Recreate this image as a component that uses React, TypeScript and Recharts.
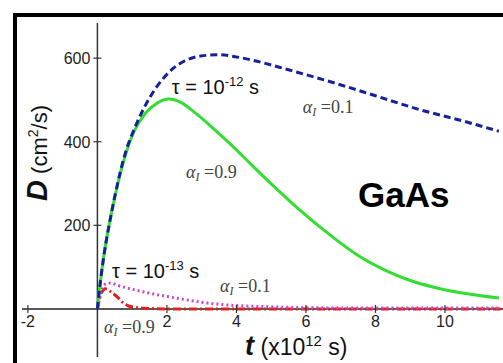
import React from "react";
import { LineChart, Line, XAxis, YAxis, ReferenceLine, ReferenceDot } from "recharts";

// tau = 1e-12 s, alpha_I = 0.1 (blue dashed)
const T_BLUE = [0, 0.05, 0.1, 0.2, 0.37, 0.52, 0.66, 0.8, 1.07, 1.38, 1.67, 2.16, 2.48, 2.97, 3.5, 3.92, 4.41, 5.5, 6.8, 8, 9.22, 10.5, 11.55];
const D_BLUE = [0, 40, 75, 135, 215, 277, 328, 372, 432, 487, 527, 574, 592, 605, 608, 604, 596, 572, 541, 510, 478, 450, 425];

// tau = 1e-12 s, alpha_I = 0.9 (green solid)
const T_GREEN = [0, 0.05, 0.1, 0.2, 0.37, 0.52, 0.66, 0.8, 1.04, 1.38, 1.73, 2.05, 2.4, 2.77, 3.25, 3.75, 4.2, 4.7, 5.27, 5.8, 6.8, 7.5, 8.24, 9, 9.68, 10.5, 11.55];
const D_GREEN = [0, 40, 75, 135, 215, 275, 325, 366, 422, 468, 493, 502, 494, 472, 438, 400, 364, 323, 278, 238, 170, 128, 94, 68, 52, 38, 26];

// tau = 1e-13 s, alpha_I = 0.1 (magenta dotted)
const T_PINK = [0, 0.1, 0.2, 0.37, 0.6, 1, 1.73, 2.4, 3.17, 4, 5, 6, 8, 10, 11.6];
const D_PINK = [0, 40, 58, 62, 56, 47, 34, 24, 14, 8, 5, 3, 2, 2, 2];

// tau = 1e-13 s, alpha_I = 0.9 (red dash-dot)
const T_RED = [0, 0.1, 0.23, 0.4, 0.57, 0.75, 0.9, 1.15, 1.5, 2, 3, 4, 6, 8, 10, 11.6];
const D_RED = [0, 35, 48, 40, 29, 14, 7, 3, 1, 0, 0, 0, 0, 0, 0, 0];

const X_TICKS = [-2, 2, 4, 6, 8, 10];
const Y_TICKS = [200, 400, 600];

const X_DOMAIN: [number, number] = [-2.17, 11.67];
const Y_DOMAIN: [number, number] = [-115, 684];

const toData = (ts: number[], ds: number[]) => ts.map((t, i) => ({ t, d: ds[i] }));

const blueData = toData(T_BLUE, D_BLUE);
const greenData = toData(T_GREEN, D_GREEN);
const pinkData = toData(T_PINK, D_PINK);
const redData = toData(T_RED, D_RED);

const SANS = "Arial, 'Liberation Sans', sans-serif";
const SERIF = "'Times New Roman', 'Liberation Serif', serif";

const xTickShape = (label: string) => (p: any) => (
  <g>
    <line x1={p.cx} x2={p.cx} y1={p.cy - 4} y2={p.cy + 4} stroke="#333" strokeWidth={1.2} />
    <text x={p.cx} y={p.cy + 18} textAnchor="middle" fontSize={16} fill="#222" fontFamily={SANS}>
      {label}
    </text>
  </g>
);

const yTickShape = (label: string) => (p: any) => (
  <g>
    <line x1={p.cx - 4} x2={p.cx + 4} y1={p.cy} y2={p.cy} stroke="#333" strokeWidth={1.2} />
    <text x={p.cx - 7} y={p.cy + 6} textAnchor="end" fontSize={16} fill="#222" fontFamily={SANS}>
      {label}
    </text>
  </g>
);

const tauShape = (exp: string) => (p: any) => (
  <text x={p.cx} y={p.cy} fontSize={20} fill="#111" fontFamily={SANS}>
    <tspan>τ = 10</tspan>
    <tspan dy={-8} fontSize={13}>{exp}</tspan>
    <tspan dy={8}> s</tspan>
  </text>
);

const alphaShape = (val: string) => (p: any) => (
  <text x={p.cx} y={p.cy} fontSize={18} fill="#444" fontFamily={SERIF}>
    <tspan fontStyle="italic">α</tspan>
    <tspan fontStyle="italic" fontSize={12} dy={3}>I</tspan>
    <tspan dy={-3}> =</tspan>
    <tspan>{val}</tspan>
  </text>
);

const gaasShape = (p: any) => (
  <text x={p.cx} y={p.cy} fontSize={35} fontWeight="bold" fill="#000" fontFamily={SANS}>
    GaAs
  </text>
);

const tLabelShape = (p: any) => (
  <text x={p.cx} y={p.cy} fill="#111" fontFamily={SANS}>
    <tspan fontSize={27} fontWeight="bold" fontStyle="italic">t</tspan>
    <tspan fontSize={23}> (x10</tspan>
    <tspan fontSize={15} dy={-9}>12</tspan>
    <tspan fontSize={23} dy={9}> s)</tspan>
  </text>
);

const dLabelShape = (p: any) => (
  <text
    x={p.cx}
    y={p.cy}
    fill="#111"
    fontFamily={SANS}
    textAnchor="middle"
    transform={`rotate(-90 ${p.cx} ${p.cy})`}
  >
    <tspan fontSize={29} fontWeight="bold" fontStyle="italic">D</tspan>
    <tspan fontSize={22}> (cm</tspan>
    <tspan fontSize={14} dy={-9}>2</tspan>
    <tspan fontSize={22} dy={9}>/s)</tspan>
  </text>
);

export default function App() {
  return (
    <div
      style={{
        position: "absolute",
        left: 0,
        top: 0,
        width: 503,
        height: 363,
        overflow: "hidden",
        background: "#fff",
      }}
    >
      <div
        style={{
          position: "absolute",
          left: 13,
          top: 13,
          width: 700,
          height: 700,
          borderLeft: "4px solid #000",
          borderTop: "4px solid #000",
        }}
      />
      <div style={{ position: "absolute", left: 0, top: 0 }}>
        <LineChart width={503} height={363} margin={{ top: 23, right: 0, bottom: 6, left: 22 }}>
          <XAxis type="number" dataKey="t" domain={X_DOMAIN} hide allowDataOverflow />
          <YAxis type="number" dataKey="d" domain={Y_DOMAIN} hide allowDataOverflow />
          <ReferenceLine x={0} stroke="#333" strokeWidth={1.5} />
          <ReferenceLine y={0} stroke="#222" strokeWidth={1.5} />
          {X_TICKS.map((v) => (
            <ReferenceDot key={"x" + v} x={v} y={0} r={1} ifOverflow="visible" shape={xTickShape(String(v))} />
          ))}
          {Y_TICKS.map((v) => (
            <ReferenceDot key={"y" + v} x={0} y={v} r={1} ifOverflow="visible" shape={yTickShape(String(v))} />
          ))}
          <Line
            data={redData}
            dataKey="d"
            type="monotone"
            stroke="#e0201e"
            strokeWidth={3}
            strokeDasharray="8 3 2 3"
            dot={false}
            isAnimationActive={false}
          />
          <Line
            data={pinkData}
            dataKey="d"
            type="monotone"
            stroke="#c845d0"
            strokeWidth={3}
            strokeDasharray="2 3"
            dot={false}
            isAnimationActive={false}
          />
          <Line
            data={greenData}
            dataKey="d"
            type="monotone"
            stroke="#33dd33"
            strokeWidth={3}
            dot={false}
            isAnimationActive={false}
          />
          <Line
            data={blueData}
            dataKey="d"
            type="monotone"
            stroke="#14209c"
            strokeWidth={3}
            strokeDasharray="7 4"
            dot={false}
            isAnimationActive={false}
          />
          <ReferenceDot x={2.14} y={514} r={1} ifOverflow="visible" shape={tauShape("-12")} />
          <ReferenceDot x={0.42} y={74} r={1} ifOverflow="visible" shape={tauShape("-13")} />
          <ReferenceDot x={5.91} y={469} r={1} ifOverflow="visible" shape={alphaShape("0.1")} />
          <ReferenceDot x={2.55} y={313} r={1} ifOverflow="visible" shape={alphaShape("0.9")} />
          <ReferenceDot x={3.53} y={41} r={1} ifOverflow="visible" shape={alphaShape("0.1")} />
          <ReferenceDot x={0.19} y={-57} r={1} ifOverflow="visible" shape={alphaShape("0.9")} />
          <ReferenceDot x={7.5} y={244} r={1} ifOverflow="visible" shape={gaasShape} />
          <ReferenceDot x={4.25} y={-110} r={1} ifOverflow="visible" shape={tLabelShape} />
          <ReferenceDot x={-1.45} y={373} r={1} ifOverflow="visible" shape={dLabelShape} />
        </LineChart>
      </div>
    </div>
  );
}
